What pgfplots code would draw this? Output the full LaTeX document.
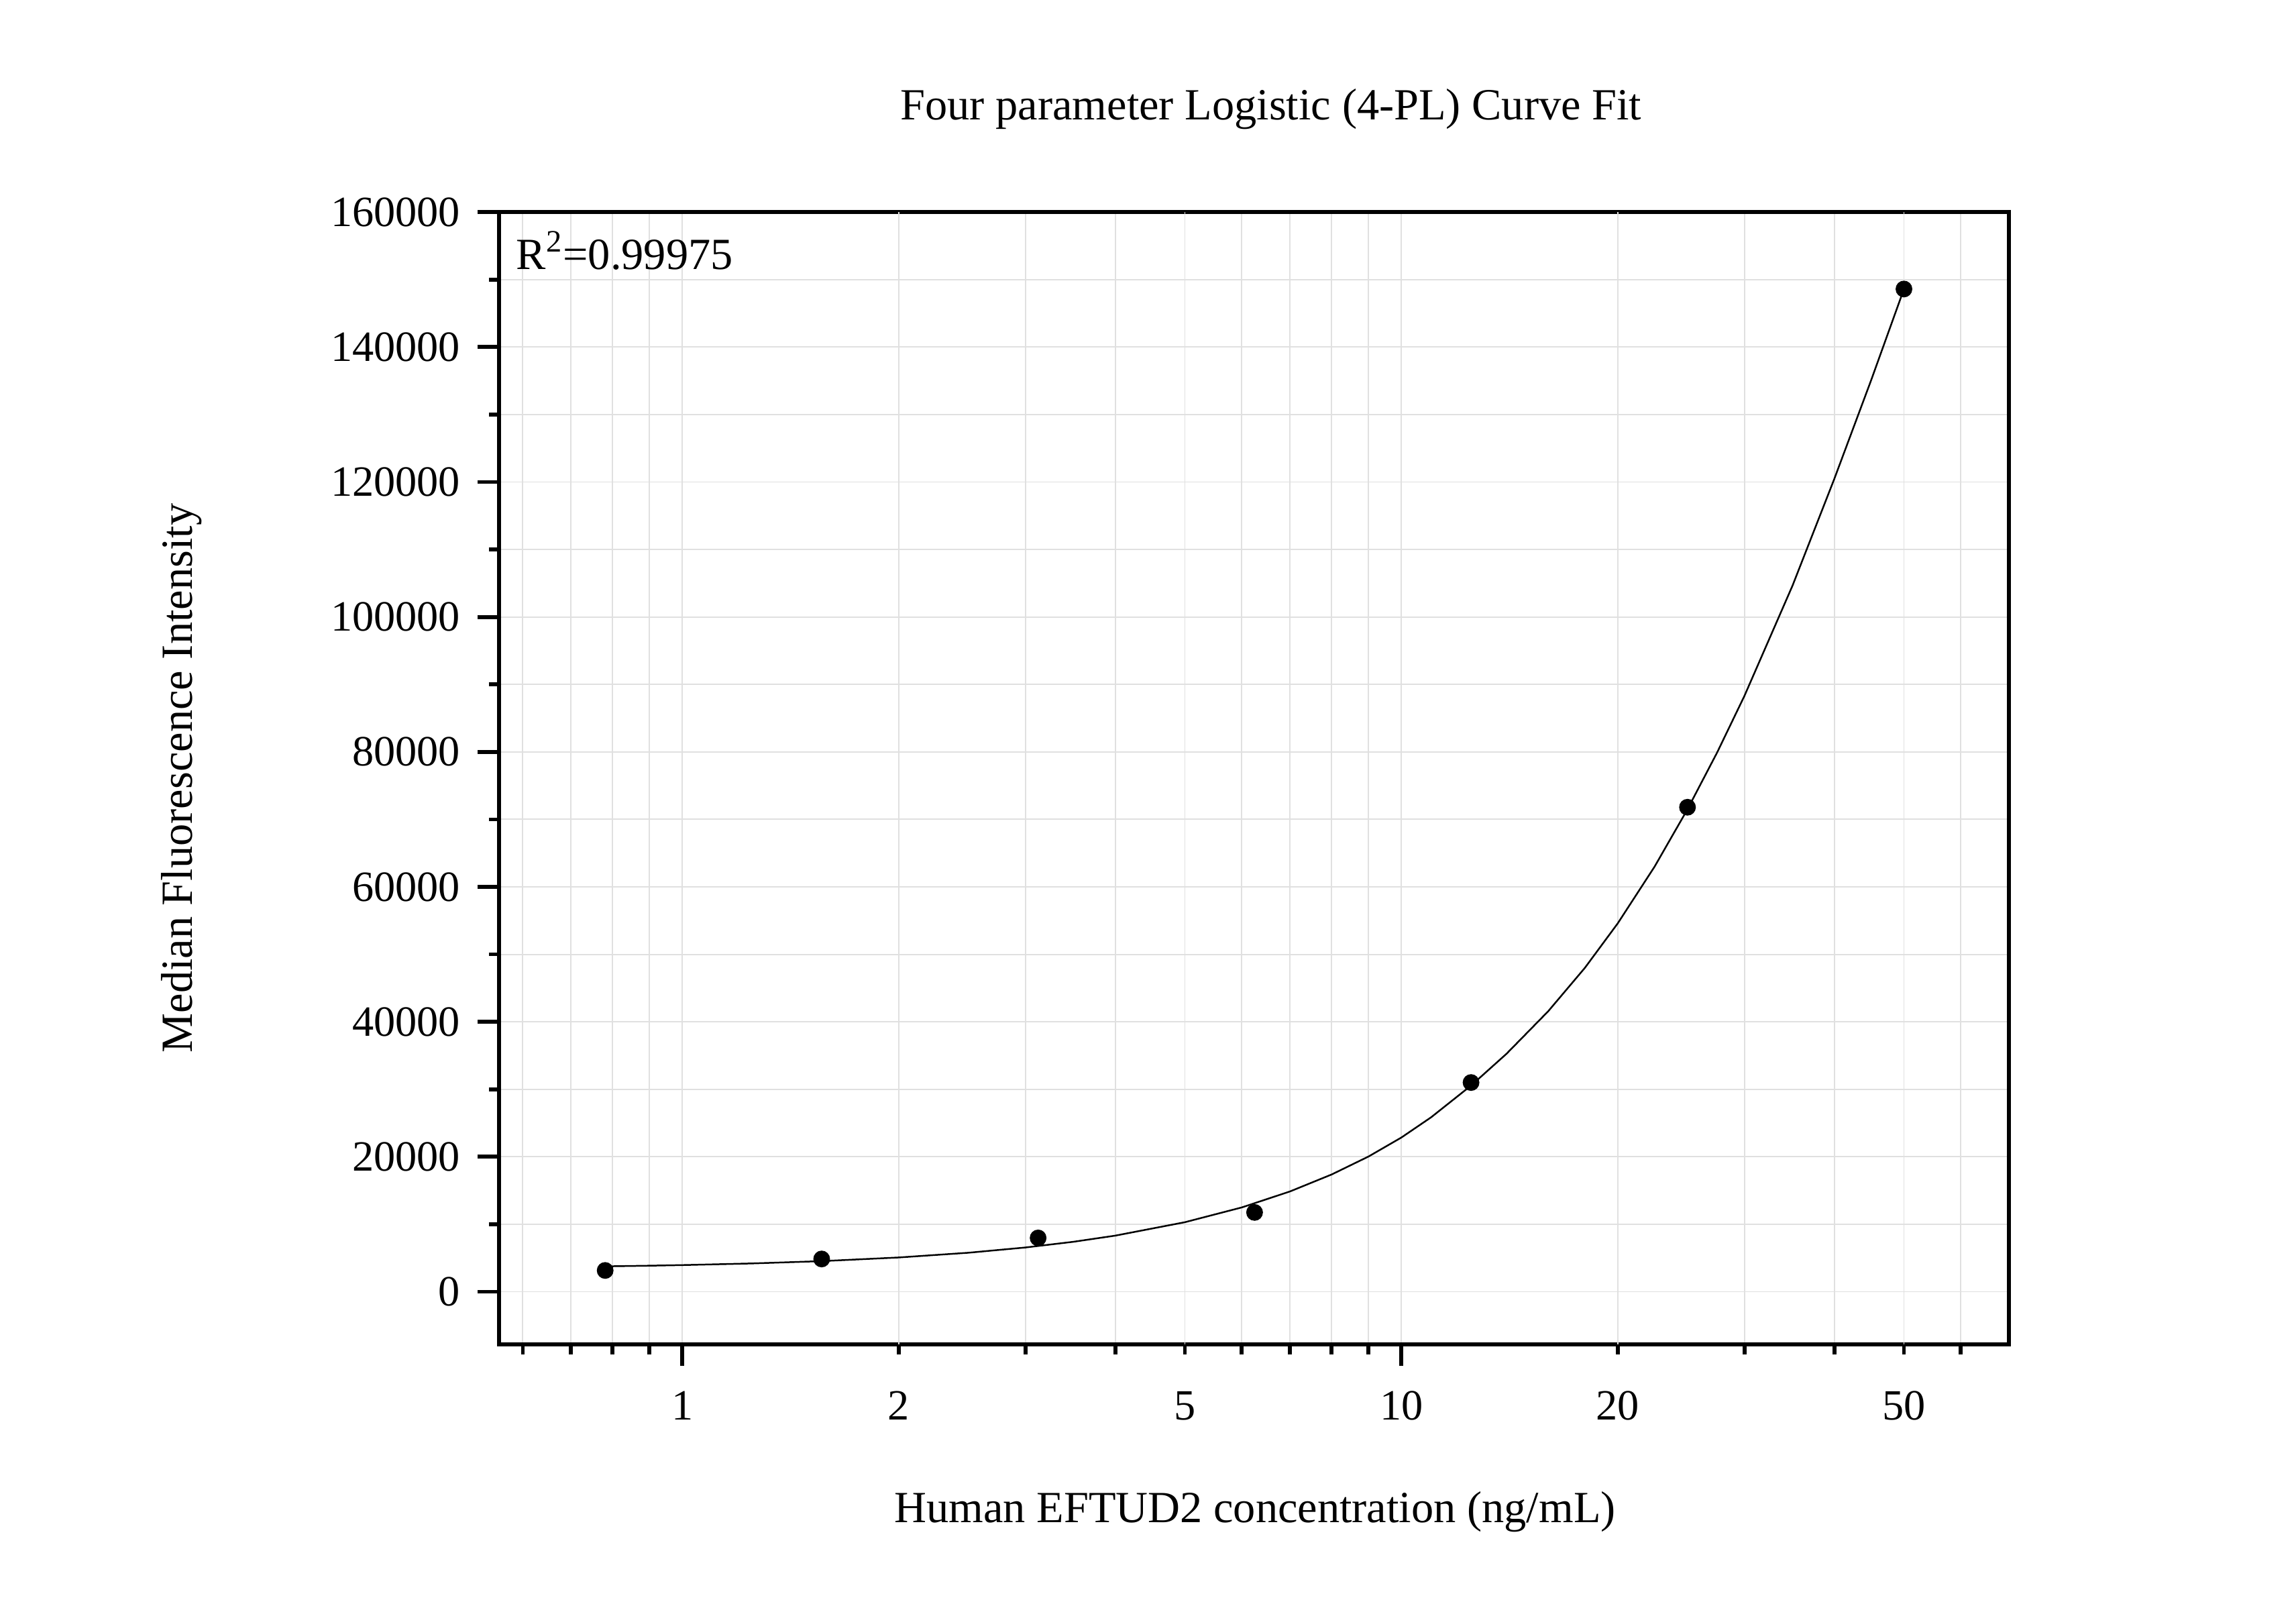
\documentclass[border=0pt]{standalone}
\usepackage{fontspec}
\setmainfont{Liberation Serif}
\usepackage{pgfplots}
\pgfplotsset{compat=1.18}
\definecolor{gridgray}{RGB}{224,224,224}

\begin{document}
\begin{tikzpicture}[font=\fontsize{16}{19}\selectfont]
\begin{axis}[
    scale only axis,
    width=19.06cm, height=14.29cm,
    xmode=log,
    xmin=0.556, xmax=70,
    ymin=-7800, ymax=160000,
    clip=false,
    tick pos=left,
    tick align=outside,
    xtick={1,10},
    xticklabels={1,10},
    extra x ticks={2,5,20,50},
    extra x tick labels={2,5,20,50},
    extra x tick style={grid=major, major tick length=0.127cm,
        xticklabel style={yshift=-0.147cm}},
    minor xtick={0.6,0.7,0.8,0.9,3,4,6,7,8,9,30,40,60},
    ytick={0,20000,40000,60000,80000,100000,120000,140000,160000},
    yticklabels={0,20000,40000,60000,80000,100000,120000,140000,160000},
    minor ytick={10000,30000,50000,70000,90000,110000,130000,150000},
    scaled y ticks=false,
    major tick length=0.271cm,
    minor tick length=0.127cm,
    tick style={black, line width=1.4pt},
    axis line style={black, line width=1.4pt},
    grid=both,
    major grid style={gridgray, line width=0.45pt},
    minor grid style={gridgray, line width=0.45pt},
    ticklabel style={font=\fontsize{15.5}{18}\selectfont},
    xticklabel style={anchor=base, inner sep=0pt, yshift=-0.683cm},
    yticklabel style={anchor=east, inner sep=0pt, xshift=-0.212cm},
]
% fitted 4-PL curve
\addplot[black, line width=0.6pt] coordinates {
    (0.78125,3758) (0.9,3857) (1,3946) (1.25,4190) (1.5625,4532) (2,5075)
    (2.5,5776) (3,6554) (3.5,7401) (4,8310) (5,10301) (6,12493) (7,14857)
    (8,17376) (9,20030) (10,22850) (11,25850) (12.5,30550) (14,35250)
    (16,41550) (18,48000) (20,54600) (22.5,63000) (25,71500) (27.5,79950)
    (30,88300) (35,104650) (40,120450) (45,135050) (50,148600)
};
% measured standards
\addplot[only marks, mark=*, mark size=2.8pt, black] coordinates {
    (0.78125,3150) (1.5625,4850) (3.125,7970) (6.25,11750)
    (12.5,31000) (25,71800) (50,148600)
};
\node[anchor=base west, inner sep=0pt] at (rel axis cs:0.0111,0.9495)
    {R\textsuperscript{2}=0.99975};
\node[anchor=base, inner sep=0pt] at (rel axis cs:0.5113,1.0815)
    {Four parameter Logistic (4-PL) Curve Fit};
\node[anchor=base, inner sep=0pt] at (rel axis cs:0.5007,-0.1576)
    {Human EFTUD2 concentration (ng/mL)};
\node[anchor=base, inner sep=0pt, rotate=90] at (rel axis cs:-0.2030,0.5)
    {Median Fluorescence Intensity};
\coordinate (sw) at (rel axis cs:0,0);
\end{axis}
\pgfresetboundingbox
\path (sw) ++(-6.299cm,-3.277cm) rectangle ++(28.982cm,20.244cm);
\end{tikzpicture}
\end{document}
